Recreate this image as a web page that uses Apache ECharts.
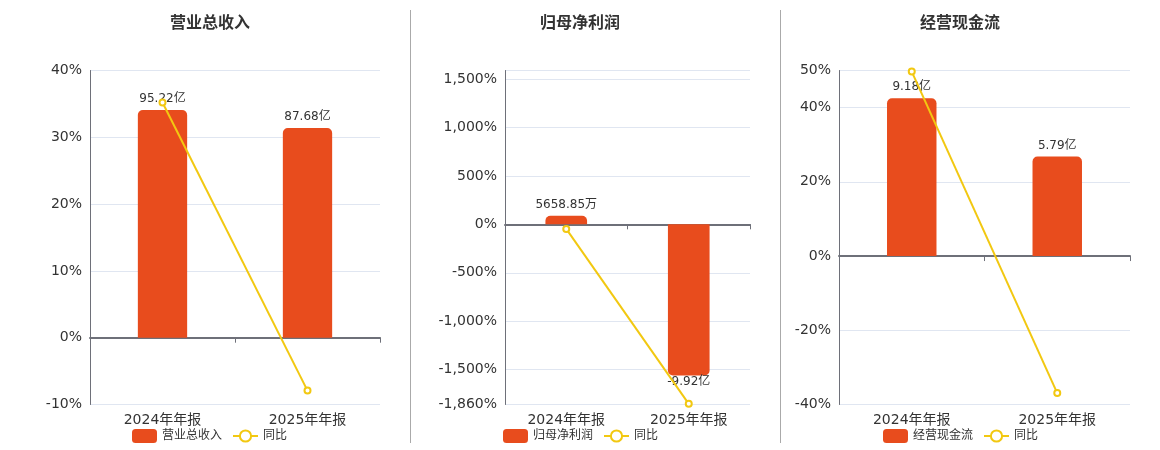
<!DOCTYPE html>
<html>
<head>
<meta charset="utf-8">
<title>财务指标</title>
<script src="https://cdn.jsdelivr.net/npm/echarts@6/dist/echarts.min.js"></script>
<style>
  html, body { margin: 0; padding: 0; background: #fff; }
  #main { width: 1160px; height: 450px; }
</style>
</head>
<body>
<div id="main"></div>
<script>
// 报告期
const categories = ['2024年年报', '2025年年报'];

// 金额（亿元）与同比（%）
const revenue = [95.22, 87.68];
const revenueYoy = [35.2, -7.92];
const netProfit = [0.565885, -9.92];
const netProfitYoy = [-47, -1853];
const cashFlow = [9.18, 5.79];
const cashFlowYoy = [49.7, -36.93];

const titles = ['营业总收入', '归母净利润', '经营现金流'];

const BAR_COLOR = '#e84c1d';
const LINE_COLOR = '#f2c811';
const FONT = 'DejaVu Sans, Noto Sans CJK SC, sans-serif';

// 每个小图的位置
const panels = [
  { name: titles[0], bars: revenue, yoy: revenueYoy, center: 210, legendLeft: 132,
    grid: { left: 90, width: 290 }, pct: { min: -10, max: 40, interval: 10 }, scale: 2.7925 },
  { name: titles[1], bars: netProfit, yoy: netProfitYoy, center: 580, legendLeft: 503,
    grid: { left: 505, width: 245 }, pct: { min: -1860, max: 1588 }, scale: 0.00636 },
  { name: titles[2], bars: cashFlow, yoy: cashFlowYoy, center: 960, legendLeft: 883,
    grid: { left: 839, width: 291 }, pct: { min: -40, max: 50, interval: 20 }, scale: 0.2158 }
];

function fmtAmount(v) {
  if (Math.abs(v) < 1) {
    return (v * 10000).toFixed(2) + '万';
  }
  return v.toFixed(2) + '亿';
}

function fmtPct(v) {
  return Number(v).toLocaleString('en-US') + '%';
}

const chart = echarts.init(document.getElementById('main'));

let title = [], legend = [], grid = [], xAxis = [], yAxis = [], series = [];

panels.forEach(function (p, i) {
  title.push({
    text: p.name,
    left: p.center,
    textAlign: 'center',
    top: 16,
    padding: 0,
    textStyle: { fontSize: 16, fontWeight: 'bold', color: '#333', fontFamily: FONT }
  });

  legend.push({
    data: [p.name, '同比'],
    left: p.legendLeft,
    top: 429,
    padding: 0,
    itemGap: 10,
    textStyle: { fontSize: 12, color: '#333', fontFamily: FONT }
  });

  grid.push({ left: p.grid.left, width: p.grid.width, top: 70.5, height: 334 });

  // 底部的类目标签
  xAxis.push({
    type: 'category',
    gridIndex: i,
    position: 'bottom',
    data: categories,
    axisLine: { show: false, onZero: false },
    axisTick: { show: false },
    axisLabel: { fontSize: 14, color: '#333', fontFamily: FONT, margin: 9 }
  });
  // 零轴线
  xAxis.push({
    type: 'category',
    gridIndex: i,
    position: 'bottom',
    data: categories,
    axisLine: { show: true, onZero: true, lineStyle: { color: '#6e7079', width: 2 } },
    axisTick: { show: true, lineStyle: { color: '#6e7079' } },
    axisLabel: { show: false }
  });

  let pctAxis = {
    type: 'value',
    gridIndex: i,
    position: 'left',
    min: p.pct.min,
    max: p.pct.max,
    axisLine: { show: true, lineStyle: { color: '#6e7079' } },
    axisTick: { show: false },
    axisLabel: { fontSize: 14, color: '#333', fontFamily: FONT, padding: [3, 0, 0, 0], formatter: fmtPct },
    splitLine: { lineStyle: { color: '#e0e6f1' } }
  };
  if (p.pct.interval) {
    pctAxis.interval = p.pct.interval;
  } else {
    pctAxis.axisLabel.showMaxLabel = false;
  }
  yAxis.push(pctAxis);

  yAxis.push({
    type: 'value',
    gridIndex: i,
    show: false,
    min: p.pct.min * p.scale,
    max: p.pct.max * p.scale,
    splitLine: { show: false }
  });

  series.push({
    name: p.name,
    type: 'bar',
    xAxisIndex: i * 2,
    yAxisIndex: i * 2 + 1,
    barWidth: '34%',
    data: p.bars.map(function (v) {
      return {
        value: v,
        itemStyle: { borderRadius: v >= 0 ? [5, 5, 0, 0] : [0, 0, 5, 5] },
        label: v >= 0 ? { position: 'top', distance: 5 } : { position: 'bottom', distance: 0 }
      };
    }),
    itemStyle: { color: BAR_COLOR },
    label: {
      show: true,
      fontSize: 12,
      color: '#333',
      fontFamily: FONT,
      formatter: function (d) { return fmtAmount(d.value); }
    }
  });

  series.push({
    name: '同比',
    type: 'line',
    xAxisIndex: i * 2,
    yAxisIndex: i * 2,
    data: p.yoy,
    symbol: 'emptyCircle',
    symbolSize: 6,
    z: 5,
    itemStyle: { color: LINE_COLOR },
    lineStyle: { color: LINE_COLOR, width: 2 }
  });
});

const option = {
  animation: false,
  textStyle: { fontFamily: FONT },
  title: title,
  legend: legend,
  grid: grid,
  xAxis: xAxis,
  yAxis: yAxis,
  series: series,
  graphic: [
    { type: 'line', shape: { x1: 410.5, y1: 10, x2: 410.5, y2: 443 }, style: { stroke: '#aaa', lineWidth: 1 } },
    { type: 'line', shape: { x1: 780.5, y1: 10, x2: 780.5, y2: 443 }, style: { stroke: '#aaa', lineWidth: 1 } }
  ]
};

chart.setOption(option);
</script>
</body>
</html>
